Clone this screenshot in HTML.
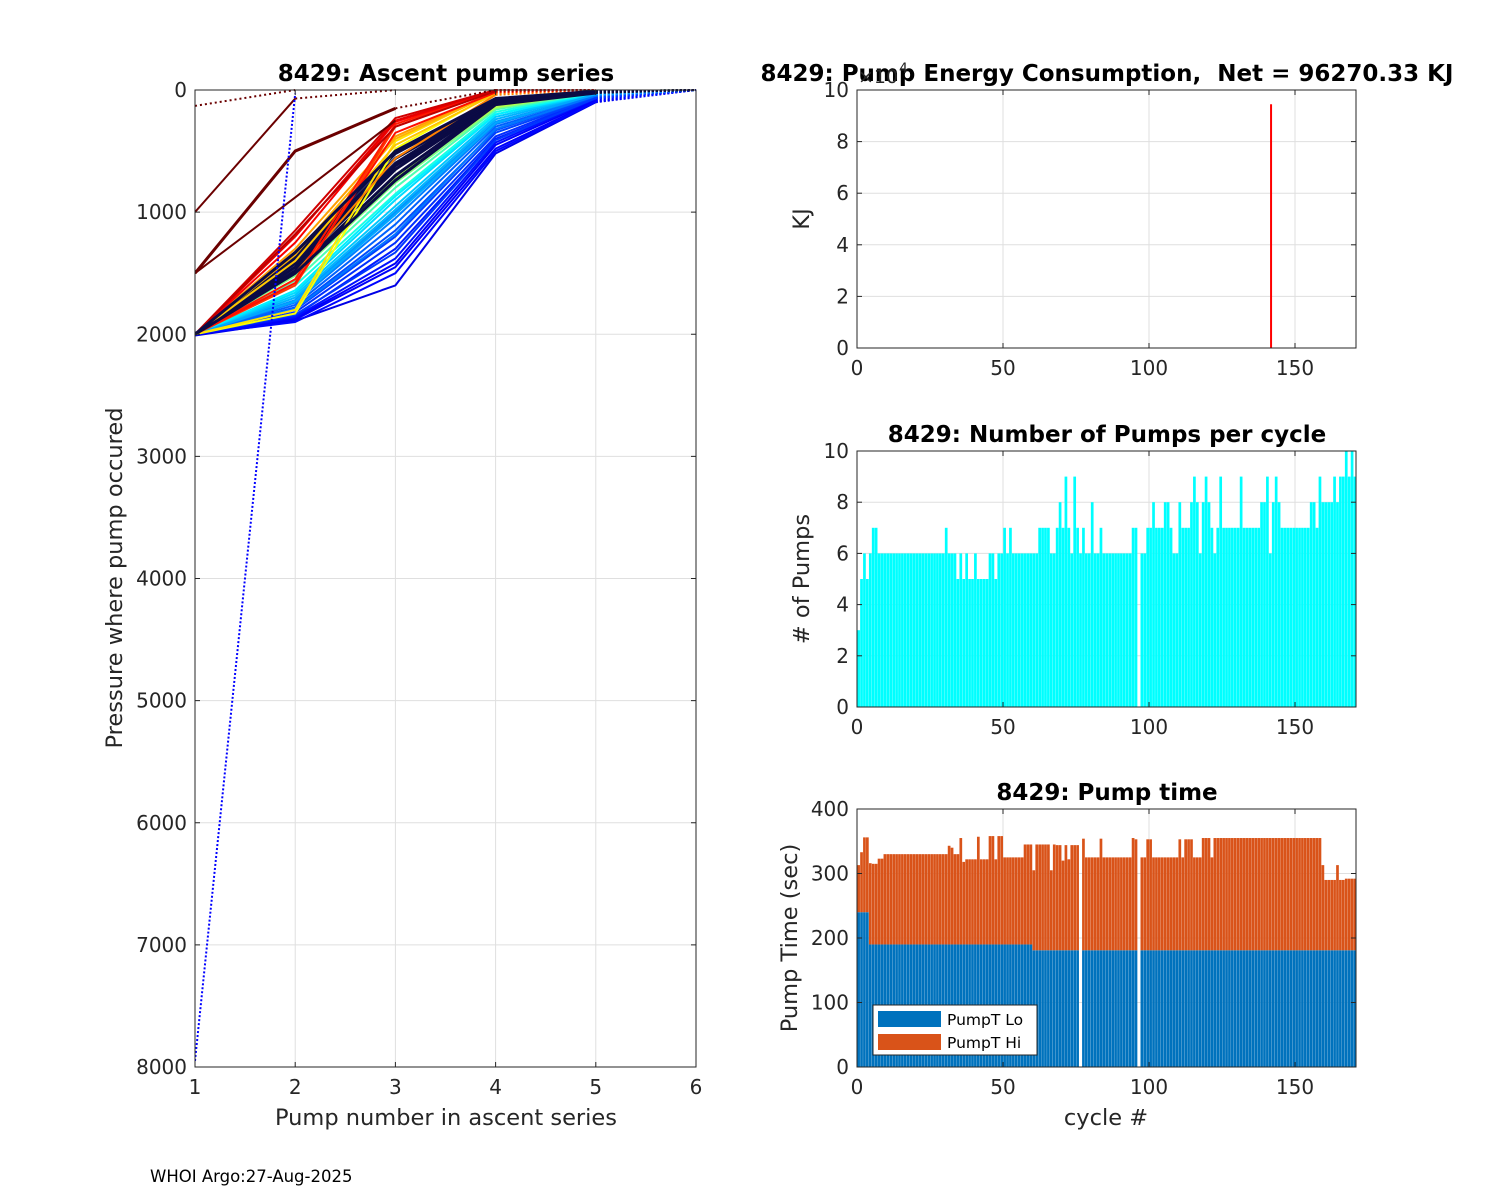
<!DOCTYPE html>
<html><head><meta charset="utf-8"><style>
body{margin:0;background:#fff;}
svg{display:block;font-family:"DejaVu Sans","Liberation Sans",sans-serif;}
</style></head><body>
<svg id="fig" width="1500" height="1200" viewBox="0 0 1500 1200" xmlns="http://www.w3.org/2000/svg">
<rect width="1500" height="1200" fill="#fff"/>
<g id="left"></g>
<g id="energy"></g>
<g id="pumps"></g>
<g id="ptime"></g>
<text x="150" y="1182" font-size="16.5" fill="#000">WHOI Argo:27-Aug-2025</text>
</svg>
<script>
// ---------- DATA ----------
// ascent profiles: [colorT (-1 = navy), pressure at pump 1..N]
const profiles = [
[0.10,2010,1890,1600,520,100,0],[0.12,2000,1880,1450,480,90,0],[0.12,2000,1870,1420,450,80,0],
[0.14,2000,1860,1380,430,70,0],[0.15,2000,1850,1300,400,70,0],[0.17,2000,1820,1250,380,60,0],
[0.19,2000,1800,1200,350,60,0],[0.20,2000,1780,1150,330,50,0],[0.22,2000,1760,1100,300,50,0],
[0.25,2000,1740,1050,280,40,0],[0.27,2000,1720,1000,260,40,0],[0.30,2000,1700,980,240,30,0],
[0.32,2000,1680,950,220,30,0],[0.34,2000,1660,900,200,30,0],[0.36,2000,1640,870,200,20,0],
[0.40,2000,1600,850,180,20,0],[0.45,2000,1560,800,160,20,0],[0.50,2000,1520,760,150,10,0],
[0.55,2000,1500,720,140,10,0],[0.13,2000,1900,1500,500,95,0],[0.18,2000,1840,1330,410,65,0],
[0.24,2000,1790,1180,320,45,0],[0.29,2000,1730,1020,270,35,0],
[-1,2000,1480,700,110,20,0],[-1,2000,1450,650,100,20,0],[-1,2000,1420,620,100,15,0],
[-1,2000,1400,600,90,10,0],[-1,2000,1380,560,90,10,0],[-1,2000,1350,520,80,10,0],
[0.62,2000,1830,480,20,0],[0.65,2000,1800,420,10,0],[0.68,2000,1400,450,30,0],
[0.70,2000,1350,400,20,0],[0.72,2000,1300,380,10,0],[0.75,2000,1500,560,40,0],
[0.82,2000,1600,300,0,0],[0.85,2000,1550,280,0,0],[0.86,2000,1580,350,20,0],
[0.88,2000,1250,260,0,0],[0.90,2000,1200,250,0,0],[0.92,2000,1150,230,0,0],[0.94,2000,1180,300,10,0],
[-1,2000,1500,740,120,25,0],[-1,2000,1330,500,70,10,0]
];
const maroonSolidA = [1000,70];
const maroonSolidB = [1500,500,150];
const maroonSolidC = [1500,880,250];
const maroonDotA = [130,0];
const maroonDotB = [70,0];
const maroonDotC = [150,0];
const blueDot = [7950,30];

const pumpTickLabels = ["1","2","3","4","5","6"];
const presTickLabels = ["0","1000","2000","3000","4000","5000","6000","7000","8000"];

const energyCycle = [141.8];
const energyValue = [94500];

const nPumps = [3,5,6,5,6,7,7,6,6,6,6,6,6,6,6,6,6,6,6,6,6,6,6,6,6,6,6,6,6,6,
7,6,6,6,5,6,5,6,5,5,6,5,5,5,5,6,6,5,6,6,7,6,7,6,6,6,6,6,6,6,6,6,7,7,7,7,6,6,7,8,
7,9,7,6,9,7,6,7,6,6,8,6,6,7,6,6,6,6,6,6,6,6,6,6,7,7,0,6,6,7,7,8,7,7,7,8,8,7,6,6,
8,7,7,7,8,9,8,6,8,9,8,7,6,7,9,7,7,7,7,7,7,9,7,7,7,7,7,7,8,8,9,6,8,9,8,7,7,7,7,7,
7,7,7,7,7,8,8,7,9,8,8,8,8,9,8,9,9,10,9,10,9,9];

const pumpTotal = [313,333,356,356,316,315,315,323,323,330,330,330,330,330,330,330,330,330,330,330,
330,330,330,330,330,330,330,330,330,330,330,343,340,330,330,355,318,322,322,322,322,357,322,322,322,
358,358,322,358,358,325,325,325,325,325,325,325,345,345,345,305,345,345,345,345,345,305,345,344,344,
320,344,322,344,344,344,0,354,325,325,325,325,325,354,325,325,325,325,325,325,325,325,325,325,355,353,
0,325,325,353,353,325,325,325,325,325,325,325,325,325,353,325,353,353,353,325,325,325,355,355,355,325,
355,355,355,355,355,355,355,355,355,355,355,355,355,355,355,355,355,355,355,355,355,355,355,355,355,355,
355,355,355,355,355,355,355,355,355,355,355,313,290,290,290,290,313,290,290,292,292,292,292,292];
const pumpLo = pumpTotal.map((t,i)=> t===0?0:(i<4?240:(i<60?190:181)));

// ---------- HELPERS ----------
const NS="http://www.w3.org/2000/svg";
function mk(parent,tag,attrs,text){const e=document.createElementNS(NS,tag);for(const k in attrs)e.setAttribute(k,attrs[k]);if(text!==undefined)e.textContent=text;parent.appendChild(e);return e;}
function jet(t){
  const r=Math.min(1,Math.max(0,1.5-Math.abs(4*t-3)));
  const g=Math.min(1,Math.max(0,1.5-Math.abs(4*t-2)));
  const b=Math.min(1,Math.max(0,1.5-Math.abs(4*t-1)));
  return `rgb(${Math.round(r*255)},${Math.round(g*255)},${Math.round(b*255)})`;
}
const AX="#262626", GR="#dfdfdf";
const TICK=20, LAB=22.5, TIT=23, BW=2.7;

// ---------- LEFT CHART ----------
(function(){
  const g=document.getElementById('left');
  const L=195,R=696,T=90,B=1067;
  const xs=v=>L+(v-1)*(R-L)/5, ys=p=>T+p*(B-T)/8000;
  for(let i=0;i<6;i++){const x=xs(i+1);
    const gl=mk(g,'line',{x1:x,x2:x,y1:T,y2:B,stroke:GR,'stroke-width':1});
    
    }
  for(let i=0;i<9;i++){const y=ys(i*1000);
    const gl=mk(g,'line',{x1:L,x2:R,y1:y,y2:y,stroke:GR,'stroke-width':1});
    
    }
  const clip=mk(g,'clipPath',{id:'clipL'});mk(clip,'rect',{x:L,y:T-2,width:R-L,height:B-T+2});
  const lines=mk(g,'g',{'clip-path':'url(#clipL)'});
  function seg(arr,start,color,dash,w){
    const pts=arr.map((p,i)=>xs(start+i)+','+ys(p)).join(' ');
    const pl=mk(lines,'polyline',{points:pts,fill:'none',stroke:color,'stroke-width':w||2,'stroke-dasharray':dash||'none','stroke-linejoin':'round'});
    
    
  }
  profiles.forEach(pr=>{
    const c=pr[0]<0?'#0b0b45':jet(pr[0]);
    const p=pr.slice(1);
    const n=p.length;
    seg(p.slice(0,n-1),1,c,null,pr[0]<0?3:2);
    seg(p.slice(n-2),n-1,c,'2,2',2);
  });
  seg(maroonSolidA,1,'#6b0000',null,2);
  seg(maroonSolidB,1,'#6b0000',null,3);
  seg(maroonSolidC,1,'#6b0000',null,2);
  seg(maroonDotA,1,'#6b0000','2,3',2);
  seg(maroonDotB,2,'#6b0000','2,3',2);
  seg(maroonDotC,3,'#6b0000','2,3',2);
  seg(blueDot,1,'#0000ff','2,2',2);
  mk(g,'rect',{x:L,y:T,width:R-L,height:B-T,fill:'none',stroke:AX,'stroke-width':1});
  pumpTickLabels.forEach((t,i)=>{const x=xs(i+1);
    mk(g,'line',{x1:x,x2:x,y1:B,y2:B-5,stroke:AX});mk(g,'line',{x1:x,x2:x,y1:T,y2:T+5,stroke:AX});
    const tl=mk(g,'text',{x:x,y:B+27,'font-size':TICK,'text-anchor':'middle',fill:AX},t);
    
    });
  presTickLabels.forEach((t,i)=>{const y=ys(i*1000);
    mk(g,'line',{x1:L,x2:L+5,y1:y,y2:y,stroke:AX});mk(g,'line',{x1:R,x2:R-5,y1:y,y2:y,stroke:AX});
    const tl=mk(g,'text',{x:L-8,y:y+7,'font-size':TICK,'text-anchor':'end',fill:AX},t);
    
    });
  const tt=mk(g,'text',{x:446,y:81,'font-size':TIT,'font-weight':'bold','text-anchor':'middle',fill:'#000'},'8429: Ascent pump series');
  
  
  const xl=mk(g,'text',{x:446,y:1125,'font-size':LAB,'text-anchor':'middle',fill:AX},'Pump number in ascent series');
  
  
  const yl=mk(g,'text',{x:0,y:0,'font-size':LAB,'text-anchor':'middle',fill:AX,transform:'translate(122,578) rotate(-90)'},'Pressure where pump occured');
  
  
})();

// ---------- RIGHT AXES HELPER ----------
const RL=857,RR=1356;
const xTickVals=[0,50,100,150];
function rightAxes(g,T,B,ymax,yticks,title,ylabel,yLabelX,xlabel){
  const xs=v=>RL+v*2.92, ys=v=>B-v*(B-T)/ymax;
  xTickVals.forEach(v=>{const gl=mk(g,'line',{x1:xs(v),x2:xs(v),y1:T,y2:B,stroke:GR});
    
    });
  yticks.forEach(v=>{const gl=mk(g,'line',{x1:RL,x2:RR,y1:ys(v),y2:ys(v),stroke:GR});
    
    });
  return {xs,ys,finish(){
    mk(g,'rect',{x:RL,y:T,width:RR-RL,height:B-T,fill:'none',stroke:AX});
    xTickVals.forEach(v=>{const x=xs(v);mk(g,'line',{x1:x,x2:x,y1:B,y2:B-5,stroke:AX});mk(g,'line',{x1:x,x2:x,y1:T,y2:T+5,stroke:AX});
      const tl=mk(g,'text',{x:x,y:B+27,'font-size':TICK,'text-anchor':'middle',fill:AX},String(v));
      
      });
    yticks.forEach(v=>{const y=ys(v);mk(g,'line',{x1:RL,x2:RL+5,y1:y,y2:y,stroke:AX});mk(g,'line',{x1:RR,x2:RR-5,y1:y,y2:y,stroke:AX});
      const tl=mk(g,'text',{x:RL-8,y:y+7,'font-size':TICK,'text-anchor':'end',fill:AX},String(v));
      
      });
    const tt=mk(g,'text',{x:1107,y:T-9,'font-size':TIT,'font-weight':'bold','text-anchor':'middle',fill:'#000'},title);
    tt.setAttribute('style','white-space:pre');
    
    
    const yl=mk(g,'text',{x:0,y:0,'font-size':LAB,'text-anchor':'middle',fill:AX,transform:`translate(${yLabelX},${(T+B)/2}) rotate(-90)`},ylabel);
    
    
    if(xlabel){const xl=mk(g,'text',{x:1106,y:B+58,'font-size':LAB,'text-anchor':'middle',fill:AX},xlabel);
      
      }
  }};
}

// ---------- ENERGY ----------
(function(){
  const g=document.getElementById('energy');
  const T=90,B=348;
  const a=rightAxes(g,T,B,10,[0,2,4,6,8,10],'8429: Pump Energy Consumption,  Net = 96270.33 KJ','KJ',809);
  energyCycle.forEach((c,i)=>{
    const ln=mk(g,'line',{x1:a.xs(c),x2:a.xs(c),y1:a.ys(0),y2:a.ys(energyValue[i]/1e4),stroke:'#ff0000','stroke-width':2});
    
    
  });
  a.finish();
  const ex=mk(g,'text',{x:858,y:83,'font-size':19,fill:AX},'×10');
  
  
  mk(g,'text',{x:899,y:73,'font-size':14,fill:AX},'4');
})();

// ---------- PUMPS PER CYCLE ----------
(function(){
  const g=document.getElementById('pumps');
  const T=451,B=707;
  const a=rightAxes(g,T,B,10,[0,2,4,6,8,10],'8429: Number of Pumps per cycle','# of Pumps',809);
  const clip=mk(g,'clipPath',{id:'clipP'});mk(clip,'rect',{x:RL,y:T,width:RR-RL,height:B-T});
  const bars=mk(g,'g',{'clip-path':'url(#clipP)'});
  nPumps.forEach((v,i)=>{
    if(!v)return;
    const cx=a.xs(i+0.55);
    const r=mk(bars,'rect',{x:cx-BW/2,y:a.ys(v),width:BW,height:a.ys(0)-a.ys(v),fill:'#00ffff'});
    
    
  });
  a.finish();
})();

// ---------- PUMP TIME ----------
(function(){
  const g=document.getElementById('ptime');
  const T=809,B=1067;
  const a=rightAxes(g,T,B,400,[0,100,200,300,400],'8429: Pump time','Pump Time (sec)',797,'cycle #');
  const clip=mk(g,'clipPath',{id:'clipT'});mk(clip,'rect',{x:RL,y:T,width:RR-RL,height:B-T});
  const bars=mk(g,'g',{'clip-path':'url(#clipT)'});
  pumpTotal.forEach((tot,i)=>{
    if(!tot)return;
    const cx=a.xs(i+0.55), lo=pumpLo[i];
    const r1=mk(bars,'rect',{x:cx-BW/2,y:a.ys(lo),width:BW,height:a.ys(0)-a.ys(lo),fill:'#0072bd'});
    
    
    const r2=mk(bars,'rect',{x:cx-BW/2,y:a.ys(tot),width:BW,height:a.ys(lo)-a.ys(tot),fill:'#d95319'});
    
    
  });
  a.finish();
  const lg=mk(g,'g',{});
  
  
  mk(lg,'rect',{x:873,y:1005,width:164,height:50,fill:'#fff',stroke:AX});
  mk(lg,'rect',{x:878,y:1011,width:63,height:16,fill:'#0072bd'});
  mk(lg,'text',{x:947,y:1025,'font-size':15.5,fill:'#000'},'PumpT Lo');
  mk(lg,'rect',{x:878,y:1034,width:63,height:16,fill:'#d95319'});
  mk(lg,'text',{x:947,y:1048,'font-size':15.5,fill:'#000'},'PumpT Hi');
})();
</script>
</body></html>
